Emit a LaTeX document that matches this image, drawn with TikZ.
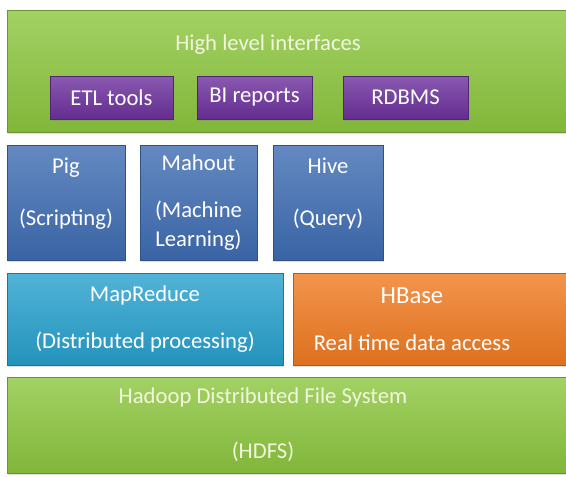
\documentclass[tikz,border=0pt]{standalone}
\usepackage{fontspec}
\setmainfont{Carlito}
\usetikzlibrary{positioning,shadows}
\definecolor{hlgreen}{RGB}{140,198,62}
\definecolor{hlpurple}{RGB}{108,48,156}
\definecolor{toolblue}{RGB}{62,108,178}
\definecolor{mrcyan}{RGB}{38,160,205}
\definecolor{hborange}{RGB}{240,122,32}
\definecolor{softwhite}{RGB}{242,246,222}

\begin{document}
\begin{tikzpicture}[x=0.75pt, y=-0.75pt, font=\fontsize{17}{22}\selectfont]

  \tikzset{
    layer/.style={rectangle, draw=#1!75!black, line width=0.6pt,
                  top color=#1!80!white, bottom color=#1!92!black,
                  drop shadow={opacity=0.25, shadow xshift=1pt, shadow yshift=-1.2pt},
                  text=white, align=center, inner sep=0pt},
    lbl/.style={text=softwhite, align=center, inner sep=0pt}
  }

  % canvas, 566 x 476 px
  \useasboundingbox[fill=white] (0,0) rectangle (566,476);

  % High level interfaces
  \node[layer=hlgreen, minimum width=559*0.75pt, minimum height=122*0.75pt]
    (hli) at (286.5,71) {};
  \node[lbl] (hlitxt) at (268,45) {High level interfaces};
  \node[layer=hlpurple, minimum width=123*0.75pt, minimum height=43*0.75pt]
    (etl) at (111.5,97.5) {ETL tools};
  \node[layer=hlpurple, minimum width=115*0.75pt, minimum height=43*0.75pt]
    (bi) at (254.5,97.5) {BI reports};
  \node[layer=hlpurple, minimum width=125*0.75pt, minimum height=43*0.75pt]
    (rdbms) at (405.5,97.5) {RDBMS};

  % Pig / Mahout / Hive
  \node[layer=toolblue, minimum width=118*0.75pt, minimum height=115*0.75pt]
    (pig) at (66,202.5) {};
  \node[lbl, text=white] (pigtxt) at (66,194) {Pig\\[17pt](Scripting)};
  \node[layer=toolblue, minimum width=117*0.75pt, minimum height=115*0.75pt]
    (mahout) at (198.5,202.5) {Mahout\\[13pt](Machine\\Learning)};
  \node[layer=toolblue, minimum width=110*0.75pt, minimum height=115*0.75pt]
    (hive) at (328,202.5) {};
  \node[lbl, text=white] (hivetxt) at (328,194) {Hive\\[17pt](Query)};

  % MapReduce and HBase
  \node[layer=mrcyan, minimum width=276*0.75pt, minimum height=92*0.75pt]
    (mapred) at (145,319) {MapReduce\\[13pt](Distributed processing)};
  \node[layer=hborange, minimum width=273*0.75pt, minimum height=92*0.75pt]
    (hbase) at (429.5,319) {};
  \node[lbl, text=white] (hbasetxt) at (412,319)
    {{\fontsize{18.5}{22}\selectfont HBase}\\[13pt]Real time data access};

  % HDFS
  \node[layer=hlgreen, minimum width=559*0.75pt, minimum height=96*0.75pt]
    (hdfs) at (286.5,425) {};
  \node[lbl] (hdfstxt) at (263,425)
    {Hadoop Distributed File System\\[19pt](HDFS)};

\end{tikzpicture}
\end{document}
